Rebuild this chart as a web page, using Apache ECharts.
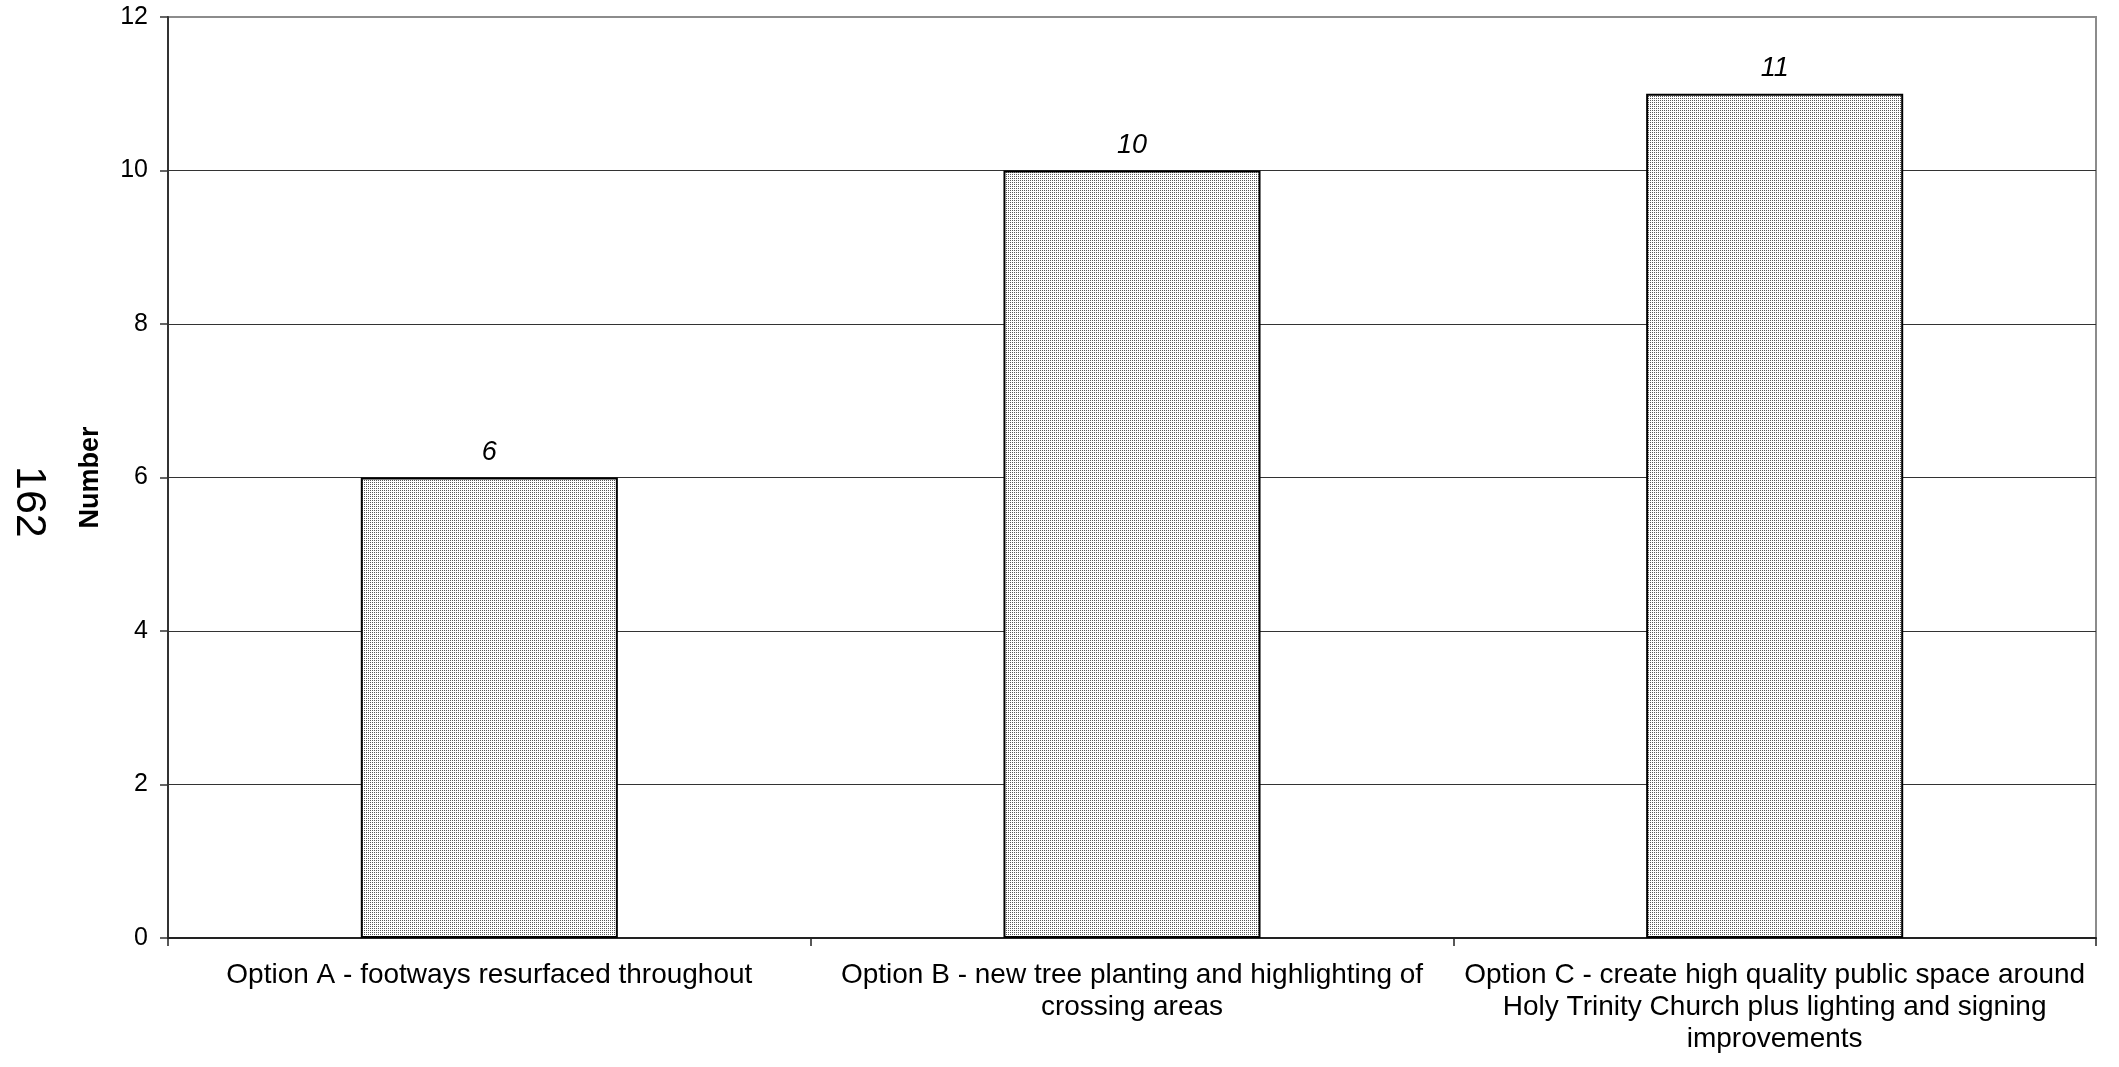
<!DOCTYPE html>
<html>
<head>
<meta charset="utf-8">
<title>Number by option</title>
<script src="https://cdn.jsdelivr.net/npm/echarts@6/dist/echarts.min.js"></script>
<style>
  html, body { margin: 0; padding: 0; background: #fff; }
  #chart { width: 2119px; height: 1067px; }
</style>
</head>
<body>
<div id="chart"></div>
<script>
// Chart data
const categories = [
  'Option A - footways resurfaced throughout',
  'Option B - new tree planting and highlighting of\ncrossing areas',
  'Option C - create high quality public space around\nHoly Trinity Church plus lighting and signing\nimprovements'
];
const counts = [6, 10, 11];
const yTicks = { min: 0, max: 12, interval: 2 };
const axisTitle = 'Number';
const pageNumber = '162';

// Fine dotted fill for the bars
function dotPattern() {
  const c = document.createElement('canvas');
  c.width = 2; c.height = 2;
  const ctx = c.getContext('2d');
  ctx.fillStyle = '#ffffff';
  ctx.fillRect(0, 0, 2, 2);
  ctx.fillStyle = '#5a5a5a';
  ctx.fillRect(0, 0, 1, 1);
  return c;
}

const font = 'Liberation Sans, Arial, Helvetica, sans-serif';
const chart = echarts.init(document.getElementById('chart'), null, { renderer: 'canvas' });

chart.setOption({
  backgroundColor: '#ffffff',
  animation: false,
  textStyle: { fontFamily: font },
  grid: {
    left: 168, right: 23, top: 17, bottom: 129,
    show: true, borderColor: '#8c8c8c', borderWidth: 2, backgroundColor: 'transparent'
  },
  graphic: [{
    type: 'text',
    left: 7, top: 466,
    rotation: -Math.PI / 2,
    style: { text: pageNumber, font: '43px ' + font, fill: '#000' }
  }],
  xAxis: {
    type: 'category',
    data: categories,
    axisLine: { lineStyle: { color: '#222', width: 2 } },
    axisTick: { show: true, length: 8, lineStyle: { color: '#222', width: 1.5 } },
    axisLabel: {
      interval: 0, margin: 21, color: '#000', fontSize: 28, lineHeight: 32,
      align: 'center', fontFamily: font
    },
    splitLine: { show: false }
  },
  yAxis: {
    type: 'value',
    min: yTicks.min, max: yTicks.max, interval: yTicks.interval,
    name: axisTitle,
    nameLocation: 'middle',
    nameRotate: 90,
    nameGap: 64,
    nameTextStyle: { fontSize: 27, fontWeight: 'bold', color: '#000', fontFamily: font },
    axisLine: { show: true, lineStyle: { color: '#333', width: 2 } },
    axisTick: { show: true, length: 8, lineStyle: { color: '#333', width: 1.5 } },
    axisLabel: { margin: 20, color: '#000', fontSize: 25, fontFamily: font },
    splitLine: { show: true, showMaxLine: false, showMinLine: false, lineStyle: { color: '#333', width: 1 } }
  },
  series: [{
    type: 'bar',
    data: counts,
    barCategoryGap: '60%',
    itemStyle: {
      color: { image: dotPattern(), repeat: 'repeat' },
      borderColor: '#000',
      borderWidth: 2
    },
    label: {
      show: true, position: 'top', distance: 12,
      fontSize: 27, fontStyle: 'italic', color: '#000', fontFamily: font
    }
  }]
});
</script>
</body>
</html>
